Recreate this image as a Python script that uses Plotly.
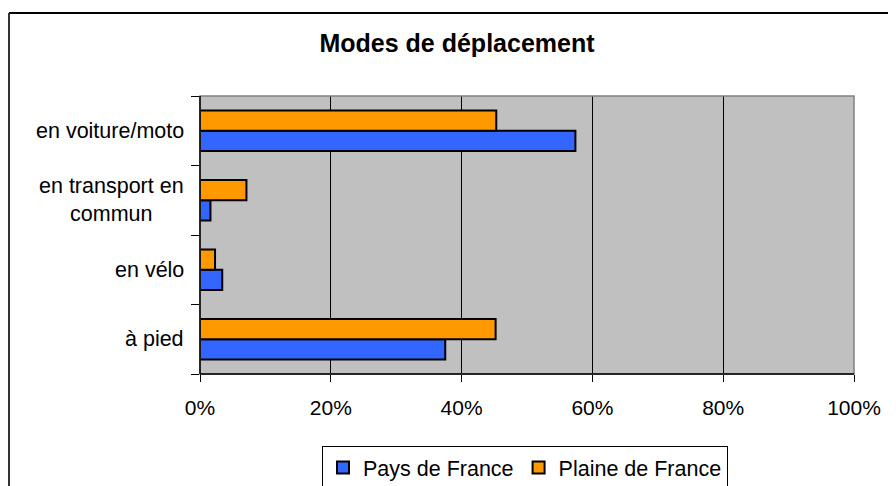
import plotly.graph_objects as go

categories = ["à pied", "en vélo", "en transport en commun", "en voiture/moto"]
category_labels = ["à pied", "en vélo", "en transport en<br>commun", "en voiture/moto"]
pays_de_france = [0.375, 0.034, 0.016, 0.574]
plaine_de_france = [0.452, 0.023, 0.071, 0.453]
x_ticks = [0, 0.2, 0.4, 0.6, 0.8, 1.0]

FONT = "Liberation Sans, Arial, sans-serif"
W, H = 896, 486
OFF = 8  # page body margin
L, T = 200 - OFF, 96 - OFF
R = W - (854 - OFF)
B = H - (374 - OFF)
pw, ph = W - L - R, H - T - B

fig = go.Figure()
fig.add_trace(go.Bar(
    y=categories, x=pays_de_france, orientation="h", name="Pays de France",
    marker=dict(color="#3366FF", line=dict(color="black", width=2)),
))
fig.add_trace(go.Bar(
    y=categories, x=plaine_de_france, orientation="h", name="Plaine de France",
    marker=dict(color="#FF9900", line=dict(color="black", width=2)),
))

for cat, lab in zip(categories, category_labels):
    fig.add_annotation(
        x=0, xref="paper", y=cat, yref="y", text=lab, showarrow=False,
        xanchor="right", xshift=-14, align="center",
        font=dict(family=FONT, size=21.5, color="black"),
    )

# plot-area border (gray) on top/right, black axes left/bottom
fig.add_shape(type="rect", xref="paper", yref="paper", x0=0, y0=0, x1=1, y1=1,
              line=dict(color="#808080", width=1.5), layer="above")
fig.add_shape(type="line", xref="paper", yref="paper", x0=0, y0=0, x1=0, y1=1,
              line=dict(color="black", width=1.5), layer="above")
fig.add_shape(type="line", xref="paper", yref="paper", x0=0, y0=0, x1=1, y1=0,
              line=dict(color="black", width=1.5), layer="above")

# outer chart border (top & left visible)
bx0 = (9 - OFF - L) / pw
by1 = 1 + (T - (13 - OFF)) / ph
fig.add_shape(type="line", xref="paper", yref="paper", x0=bx0, y0=by1, x1=3, y1=by1,
              line=dict(color="black", width=2))
fig.add_shape(type="line", xref="paper", yref="paper", x0=bx0, y0=by1, x1=bx0, y1=-3,
              line=dict(color="#333333", width=2))

fig.update_layout(
    width=W, height=H,
    margin=dict(l=L, r=R, t=T, b=B, autoexpand=False),
    paper_bgcolor="white",
    plot_bgcolor="#C0C0C0",
    barmode="group",
    bargap=0.42,
    bargroupgap=0,
    font=dict(family=FONT, size=21, color="black"),
    title=dict(text="<b>Modes de déplacement</b>", x=(457 - OFF) / W, xanchor="center",
               xref="container", y=1 - (43 - OFF) / H, yanchor="middle", yref="container",
               font=dict(family=FONT, size=25, color="black")),
    showlegend=True,
    legend=dict(orientation="h", x=(525 - OFF - L) / pw, xanchor="center",
                y=-(446 - 374) / ph, yanchor="top",
                bordercolor="black", borderwidth=1, bgcolor="white",
                font=dict(family=FONT, size=21.5, color="black"),
                itemwidth=30, traceorder="normal"),
    xaxis=dict(range=[0, 1], tickvals=x_ticks, tickformat=".0%",
               showgrid=True, gridcolor="black", gridwidth=1,
               zeroline=False, showline=False,
               ticks="outside", ticklen=7, tickcolor="black", tickwidth=1,
               tickfont=dict(family=FONT, size=21, color="black"),
               ticklabelstandoff=8, fixedrange=True),
    yaxis=dict(categoryorder="array", categoryarray=categories,
               showticklabels=False, showgrid=False, zeroline=False,
               ticks="outside", ticklen=8, tickcolor="black", tickwidth=1,
               tickson="boundaries", showline=False, fixedrange=True),
)

fig.write_html("out.html")
